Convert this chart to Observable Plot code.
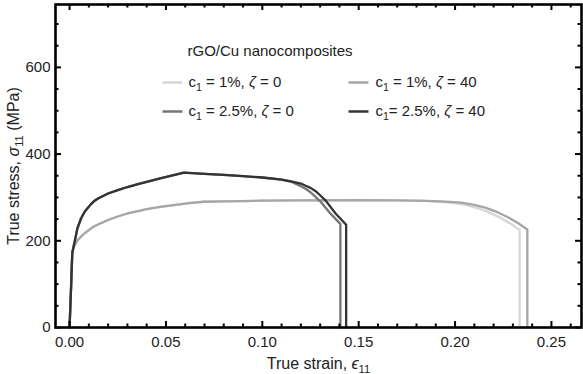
<!DOCTYPE html>
<html><head><meta charset="utf-8">
<script src="https://cdn.jsdelivr.net/npm/d3@7"></script>
<script src="https://cdn.jsdelivr.net/npm/@observablehq/plot@0.6"></script>
<style>body{margin:0;background:#fff;} svg{display:block}</style>
</head><body><div id="chart"></div>
<script>
// ---- tick values ----
const xMajor = [0, 0.05, 0.10, 0.15, 0.20, 0.25];
const xMinor = [0.01,0.02,0.03,0.04,0.06,0.07,0.08,0.09,0.11,0.12,0.13,0.14,0.16,0.17,0.18,0.19,0.21,0.22,0.23,0.24,0.26];
const yMajor = [0, 200, 400, 600];
const yMinor = [50,100,150,250,300,350,450,500,550,650,700];

// ---- series: c1 = 1%, zeta = 0 ----
const strainA = [0,0.0008,0.0014,0.002,0.003,0.004,0.006,0.008,0.011,0.0126,0.015,0.02,0.025,0.03,0.035,0.04,0.047,0.055,0.062,0.0695,0.08,0.1,0.12,0.15,0.17,0.185,0.193,0.2,0.206,0.212,0.218,0.224,0.229,0.2335,0.2335];
const stressA = [0,95,172,183,193,200,210,218,228,233,238,248,256,263,268,273,278,283,287,290,291,292.5,293,293.5,293,292,290,287,282,275,265,252,239,225,0];
// ---- series: c1 = 1%, zeta = 40 ----
const strainB = [0,0.0008,0.0014,0.002,0.003,0.004,0.006,0.008,0.011,0.0126,0.015,0.02,0.025,0.03,0.035,0.04,0.047,0.055,0.062,0.0695,0.08,0.1,0.12,0.15,0.17,0.185,0.195,0.203,0.21,0.216,0.222,0.228,0.233,0.2375,0.2375];
const stressB = [0,95,172,183,193,200,210,218,228,233,238,248,256,263,268,273,278,283,287,290,291,292.5,293,293.5,293,292,290.5,288,283,276,266,253,240,226,0];
// ---- series: c1 = 2.5%, zeta = 0 ----
const strainC = [0,0.0008,0.0014,0.002,0.003,0.004,0.006,0.008,0.011,0.0126,0.015,0.02,0.025,0.03,0.035,0.04,0.047,0.0535,0.0593,0.07,0.08,0.09,0.1,0.11,0.115,0.1175,0.12,0.1225,0.125,0.1275,0.1305,0.1355,0.1405,0.1405];
const stressC = [0,95,172,185,205,228,252,268,284,291,298,309,317,324,330,336,344,351,357,354.5,352,349,346,341,336,331,326,320,312,302,289,262,239,0];
// ---- series: c1 = 2.5%, zeta = 40 ----
const strainD = [0,0.0008,0.0014,0.002,0.003,0.004,0.006,0.008,0.011,0.0126,0.015,0.02,0.025,0.03,0.035,0.04,0.047,0.0535,0.0593,0.07,0.08,0.09,0.1,0.11,0.115,0.12,0.1225,0.125,0.1275,0.13,0.133,0.138,0.1435,0.1435];
const stressD = [0,95,172,185,205,228,252,268,284,291,298,309,317,324,330,336,344,351,357,354.5,352,349,346,341,337,332,327,322,315,305,292,263,237,0];

const seriesLabels = ["c_{1} = 1%, ~ζ~ = 0", "c_{1} = 1%, ~ζ~ = 40", "c_{1} = 2.5%, ~ζ~ = 0", "c_{1}= 2.5%, ~ζ~ = 40"];
const seriesColors = ["#d6d6d6", "#a6a6a6", "#767676", "#333333"];
const legendTitle = "rGO/Cu nanocomposites";
const xLabel = "True strain, ~ϵ~_{11}";
const yLabel = "True stress, ~σ~_{11} (MPa)";

const strains = [strainA, strainB, strainC, strainD];
const stresses = [stressA, stressB, stressC, stressD];

const W = 583, H = 374, mL = 55, mR = 2, mT = 4, mB = 47;
const fw = W - mL - mR, fh = H - mT - mB;

const marks = [];
strains.forEach((xs, s) => {
  const pts = xs.map((x, i) => ({x, y: stresses[s][i]}));
  marks.push(Plot.line(pts, {x: "x", y: "y", stroke: seriesColors[s], strokeWidth: 2.3, strokeLinejoin: "round"}));
});
// inward ticks on all four sides
const tk = {stroke: "black", strokeWidth: 2};
marks.push(Plot.tickX(xMajor, {x: d => d, insetTop: fh - 6, ...tk}));
marks.push(Plot.tickX(xMajor, {x: d => d, insetBottom: fh - 6, ...tk}));
marks.push(Plot.tickX(xMinor, {x: d => d, insetTop: fh - 3.5, ...tk}));
marks.push(Plot.tickX(xMinor, {x: d => d, insetBottom: fh - 3.5, ...tk}));
marks.push(Plot.tickY(yMajor, {y: d => d, insetRight: fw - 6, ...tk}));
marks.push(Plot.tickY(yMajor, {y: d => d, insetLeft: fw - 6, ...tk}));
marks.push(Plot.tickY(yMinor, {y: d => d, insetRight: fw - 3.5, ...tk}));
marks.push(Plot.tickY(yMinor, {y: d => d, insetLeft: fw - 3.5, ...tk}));
marks.push(Plot.frame({stroke: "black", strokeWidth: 2.6}));
// axis titles
marks.push(Plot.text([xLabel], {text: d => d, frameAnchor: "bottom", dy: 36, textAnchor: "middle", lineAnchor: "middle", fill: "#222", fontSize: 16}));
marks.push(Plot.text([yLabel], {text: d => d, frameAnchor: "left", dx: -42, rotate: -90, textAnchor: "middle", lineAnchor: "middle", fill: "#222", fontSize: 16}));
// legend (inside the frame)
marks.push(Plot.text([legendTitle], {text: d => d, frameAnchor: "top-left", dx: 132, dy: 47, textAnchor: "start", lineAnchor: "middle", fill: "#222"}));
seriesLabels.forEach((lab, i) => {
  const col = i % 2, row = Math.floor(i / 2);
  const dy = 78 + row * 29;
  marks.push(Plot.vector([lab], {frameAnchor: "top-left", dx: 107 + col * 186, dy, rotate: 90, length: 20, anchor: "start", r: 0, stroke: seriesColors[i], strokeWidth: 2.5, strokeLinecap: "butt"}));
  marks.push(Plot.text([lab], {text: d => d, frameAnchor: "top-left", dx: 133 + col * 187, dy, textAnchor: "start", lineAnchor: "middle", fill: "#222"}));
});

const chart = Plot.plot({
  width: W, height: H,
  marginLeft: mL, marginRight: mR, marginTop: mT, marginBottom: mB,
  style: {fontSize: "15px", fontFamily: "'Liberation Sans', Arial, sans-serif", color: "#222", background: "#fff"},
  x: {domain: [-0.0073, 0.2656], ticks: xMajor, tickSize: 0, tickPadding: 9, tickFormat: d3.format(".2f"), label: null},
  y: {domain: [0, 745], ticks: yMajor, tickSize: 0, tickPadding: 5, label: null},
  marks
});

// rich text: _{..} subscripts, ~..~ italics
function richify(svg) {
  svg.querySelectorAll("text").forEach(t => {
    const s = t.textContent;
    if (!/[_~]/.test(s)) return;
    while (t.firstChild) t.removeChild(t.firstChild);
    const re = /_\{([^}]*)\}|~([^~]*)~|([^_~]+)/g;
    let m, shift = 0;
    while ((m = re.exec(s))) {
      const ts = document.createElementNS("http://www.w3.org/2000/svg", "tspan");
      if (m[1] !== undefined) {
        ts.textContent = m[1];
        ts.setAttribute("font-size", "70%");
        ts.setAttribute("dy", 4 - shift); shift = 4;
      } else {
        ts.textContent = m[2] !== undefined ? m[2] : m[3];
        if (m[2] !== undefined) ts.setAttribute("font-style", "italic");
        if (shift) { ts.setAttribute("dy", -shift); shift = 0; }
      }
      t.appendChild(ts);
    }
  });
}
richify(chart);
document.getElementById("chart").appendChild(chart);
</script>
</body></html>
